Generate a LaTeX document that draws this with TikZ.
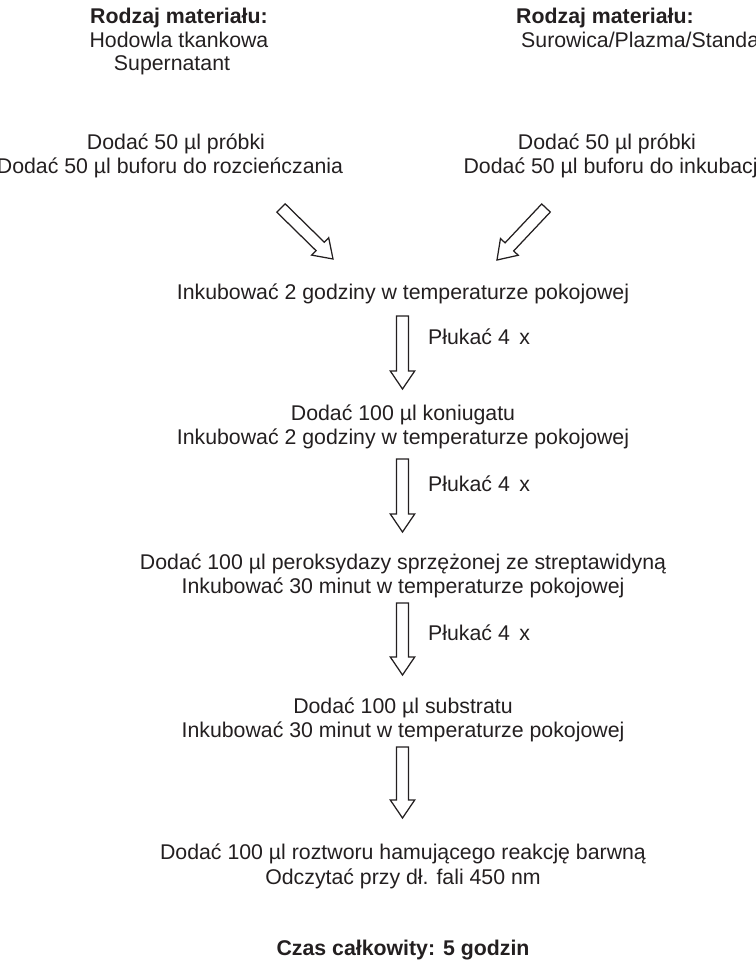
\documentclass[tikz,border=0pt]{standalone}
\usepackage{fontspec}
\setmainfont{Liberation Sans}
\usetikzlibrary{calc}

\definecolor{ink}{RGB}{35,31,32}

% Hollow block arrow from tail coordinate #1 to tip coordinate #2
\newcommand{\hollowarrow}[2]{%
  \path ($(#2)!18pt!(#1)$) coordinate (#1hb);
  \draw[blockline]
    ($(#1)!5.9pt!90:(#2)$) -- ($(#1hb)!5.9pt!90:(#2)$) --
    ($(#1hb)!12.2pt!90:(#2)$) -- (#2) --
    ($(#1hb)!12.2pt!-90:(#2)$) -- ($(#1hb)!5.9pt!-90:(#2)$) --
    ($(#1)!5.9pt!-90:(#2)$) -- cycle;
}

\begin{document}
\begin{tikzpicture}[x=1pt,y=-1pt,
  txt/.style={inner sep=0pt, anchor=base, text=ink,
    font=\fontsize{21.3}{24.5}\selectfont},
  head/.style={txt, font=\fontsize{21.3}{24.5}\selectfont\bfseries},
  blockline/.style={draw=ink, line width=1.25pt, line join=miter, fill=white}]
\useasboundingbox (0,0) rectangle (755,960);
\clip (0,0) rectangle (755,960);

% material types
\node[head] (lhead) at (179,24) {Rodzaj materiału:};
\node[txt]  (lmat1) at (179,48) {Hodowla tkankowa};
\node[txt]  (lmat2) at (172,71) {Supernatant};
\node[head] (rhead) at (605,24) {Rodzaj materiału:};
\node[txt, anchor=base west] (rmat1) at (521,48) {Surowica/Plazma/Standard};

% sample addition
\node[txt] (ladd1) at (176,150) {Dodać 50 µl próbki};
\node[txt] (ladd2) at (170,174) {Dodać 50 µl buforu do rozcieńczania};
\node[txt] (radd1) at (607,150) {Dodać 50 µl próbki};
\node[txt] (radd2) at (613,174) {Dodać 50 µl buforu do inkubacji};

% main protocol column
\node[txt] (inc1)  at (403,299) {Inkubować 2 godziny w temperaturze pokojowej};
\node[txt] (con1)  at (403,420) {Dodać 100 µl koniugatu};
\node[txt] (con2)  at (403,444) {Inkubować 2 godziny w temperaturze pokojowej};
\node[txt] (per1)  at (403,569) {Dodać 100 µl peroksydazy sprzężonej ze streptawidyną};
\node[txt] (per2)  at (403,593) {Inkubować 30 minut w temperaturze pokojowej};
\node[txt] (sub1)  at (403,713) {Dodać 100 µl substratu};
\node[txt] (sub2)  at (403,737) {Inkubować 30 minut w temperaturze pokojowej};
\node[txt] (stop1) at (403,859) {Dodać 100 µl roztworu hamującego reakcję barwną};
\node[txt] (stop2) at (403,884) {Odczytać przy dł. fali 450 nm};
\node[head] (total) at (403,955) {Czas całkowity: 5 godzin};

% wash labels
\node[txt, anchor=base west] (wash1) at (428,344) {Płukać 4\hspace{0.45em}x};
\node[txt, anchor=base west] (wash2) at (428,491) {Płukać 4\hspace{0.45em}x};
\node[txt, anchor=base west] (wash3) at (428,640) {Płukać 4\hspace{0.45em}x};

% arrow ends
\coordinate (la) at (281,208);  \coordinate (lb) at (333,259);
\coordinate (ra) at (546,208);  \coordinate (rb) at (497,260);
\coordinate (v1a) at (402.5,316); \coordinate (v1b) at (402.5,389);
\coordinate (v2a) at (402.5,459); \coordinate (v2b) at (402.5,532);
\coordinate (v3a) at (402.5,603); \coordinate (v3b) at (402.5,675);
\coordinate (v4a) at (402.5,747); \coordinate (v4b) at (402.5,818);

\hollowarrow{la}{lb}
\hollowarrow{ra}{rb}
\hollowarrow{v1a}{v1b}
\hollowarrow{v2a}{v2b}
\hollowarrow{v3a}{v3b}
\hollowarrow{v4a}{v4b}
\end{tikzpicture}
\end{document}
